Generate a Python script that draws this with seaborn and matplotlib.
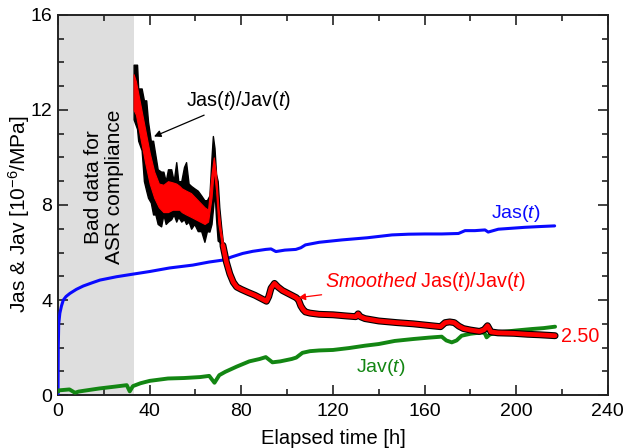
import numpy as np
import pandas as pd
import matplotlib
matplotlib.use("Agg")
import matplotlib.pyplot as plt
import seaborn as sns

# ---------------- data ----------------
t_jas = [0, 0.1, 0.3, 0.8, 1.5, 2.3, 3.5, 5.2, 8, 11, 15, 18.3, 25.5, 32.7, 40, 48.7,
         58.8, 66, 71.9, 76, 80.6, 85, 90.7, 93, 95.1, 99, 103.8, 106, 108, 114, 124,
         135, 145.8, 153, 160, 167.5, 174.8, 177.7, 182, 186.4, 187.8, 192.2, 198,
         203.8, 210, 216.8]
jas = [0, 2.0, 3.0, 3.45, 3.75, 4.0, 4.15, 4.28, 4.45, 4.59, 4.73, 4.84, 4.98, 5.09,
       5.2, 5.35, 5.47, 5.6, 5.68, 5.82, 5.96, 6.05, 6.13, 6.15, 6.04, 6.1, 6.13, 6.2,
       6.32, 6.43, 6.53, 6.62, 6.74, 6.77, 6.78, 6.78, 6.8, 6.92, 6.92, 6.95, 6.86,
       6.98, 7.02, 7.06, 7.09, 7.12]

t_jav = [0, 0.3, 5, 7.4, 9, 11, 18, 25, 30, 31.3, 32.7, 36, 40, 48, 55, 62, 66, 68.3,
         70.4, 73, 78, 83.5, 88, 90.7, 93.6, 97, 102, 104, 106.7, 110, 114, 120, 127,
         134, 140, 147, 155, 162, 167.5, 169.5, 171.9, 174, 176.2, 180, 185, 186.3,
         187.1, 188.5, 192, 200, 206.7, 212, 217]
jav = [0.15, 0.2, 0.24, 0.1, 0.15, 0.18, 0.28, 0.36, 0.42, 0.16, 0.38, 0.5, 0.6, 0.7,
       0.72, 0.76, 0.81, 0.52, 0.84, 0.98, 1.2, 1.42, 1.52, 1.6, 1.38, 1.42, 1.52,
       1.58, 1.78, 1.85, 1.88, 1.9, 1.98, 2.08, 2.15, 2.28, 2.36, 2.42, 2.46, 2.3,
       2.22, 2.3, 2.5, 2.58, 2.64, 2.6, 2.43, 2.55, 2.64, 2.72, 2.78, 2.82, 2.88]

# noisy early part of the raw ratio (black envelope)
t_black = [33, 34.5, 35, 36.5, 37.5, 38.5, 39.3, 40.5, 41.5, 42.5, 43.5, 45, 46, 47,
           48, 49.4, 50.5, 51.6, 52.5, 53.8, 55, 55.9, 57, 58.1, 59.5, 61, 62.5, 63.9,
           65, 66.1, 67, 67.6, 68.3, 69, 69.7, 70.4, 71.2, 72, 73]
black_hi = [13.9, 13.9, 12.9, 12.9, 12.4, 12.4, 11.5, 10.7, 10.7, 10.1, 9.5, 9.4, 9.4,
            9.0, 9.5, 9.5, 9.0, 9.8, 9.0, 9.0, 9.6, 9.8, 8.9, 8.8, 8.7, 8.6, 8.4, 8.2,
            8.2, 8.4, 10.0, 10.9, 10.4, 9.3, 9.0, 7.9, 7.1, 6.4, 6.0]
black_lo = [11.6, 11.2, 10.7, 10.3, 9.0, 8.6, 8.3, 8.1, 7.6, 7.6, 7.2, 7.1, 7.6, 7.2,
            7.3, 7.4, 7.6, 7.3, 7.5, 7.3, 7.4, 7.2, 7.3, 7.0, 7.2, 6.9, 6.9, 6.45,
            6.9, 6.88, 7.2, 7.8, 8.6, 7.4, 6.5, 6.45, 6.2, 5.9, 5.5]

# noisy early part of the smoothed ratio (red envelope)
t_red = [33, 34, 36, 38, 40, 42, 44, 46, 48, 50, 51.6, 53, 54, 55.9, 58, 60, 62, 64,
         65.5, 67, 68, 69, 70, 71, 72, 73]
red_hi = [13.5, 13.2, 12.2, 11.2, 10.2, 9.4, 8.9, 8.85, 9.0, 8.95, 8.9, 8.8, 8.7,
          8.6, 8.5, 8.3, 8.1, 7.9, 7.8, 9.3, 10.0, 9.3, 7.9, 7.0, 6.4, 5.9]
red_lo = [12.0, 11.8, 10.8, 9.8, 8.9, 8.3, 7.9, 7.7, 7.7, 7.8, 7.8, 7.8, 7.7, 7.6,
          7.5, 7.4, 7.3, 7.2, 7.3, 8.3, 9.5, 8.6, 7.2, 6.6, 6.0, 5.6]

# later (smooth) part of the ratio
t_smooth = [72, 73.5, 75, 76.5, 78, 80, 83, 86, 89, 91, 92, 93, 94.5, 96, 98, 100,
            102, 104, 105, 106, 107, 108, 110, 114, 120, 126, 130, 131, 132, 134, 140,
            148, 155, 162, 167, 169, 171, 173, 175, 177, 180, 184, 186, 187.5, 189,
            192, 199, 205, 210, 217]
ratio = [6.3, 5.6, 5.1, 4.75, 4.55, 4.45, 4.32, 4.2, 4.05, 3.95, 4.15, 4.5, 4.7,
         4.55, 4.4, 4.3, 4.2, 4.1, 4.0, 3.75, 3.6, 3.5, 3.45, 3.4, 3.38, 3.33, 3.3,
         3.42, 3.3, 3.22, 3.12, 3.05, 3.0, 2.93, 2.88, 3.05, 3.08, 3.05, 2.9, 2.8,
         2.74, 2.68, 2.75, 2.92, 2.66, 2.62, 2.6, 2.56, 2.54, 2.5]

bad_data_end = 33
x_ticks = [0, 40, 80, 120, 160, 200, 240]
y_ticks = [0, 4, 8, 12, 16]

# ---------------- style ----------------
sns.set_style("ticks")
plt.rcParams["font.family"] = ["Liberation Sans", "DejaVu Sans"]
plt.rcParams["mathtext.fontset"] = "custom"
plt.rcParams["mathtext.rm"] = "Liberation Sans"
plt.rcParams["mathtext.it"] = "Liberation Sans:italic"
plt.rcParams["mathtext.bf"] = "Liberation Sans:bold"
plt.rcParams["text.color"] = "black"
plt.rcParams["axes.labelcolor"] = "black"
plt.rcParams["xtick.color"] = "black"
plt.rcParams["ytick.color"] = "black"

fig = plt.figure(figsize=(6.24, 4.48), dpi=100)
ax = fig.add_axes([0.093, 0.118, 0.881, 0.849])

FS_TICK = 14
FS_ANN = 14.2
ax.axvspan(0, bad_data_end, color="#dedede", lw=0, zorder=0)

df_jas = pd.DataFrame({"t": t_jas, "v": jas})
df_jav = pd.DataFrame({"t": t_jav, "v": jav})
df_ratio = pd.DataFrame({"t": t_smooth, "v": ratio})

sns.lineplot(data=df_jas, x="t", y="v", ax=ax, color="#0a0aff", lw=2.2,
             sort=False, estimator=None, zorder=3)
sns.lineplot(data=df_jav, x="t", y="v", ax=ax, color="#138613", lw=2.8,
             sort=False, estimator=None, zorder=3)

ax.fill_between(t_black, black_lo, black_hi, color="black", lw=1.0,
                edgecolor="black", zorder=4)
sns.lineplot(data=df_ratio, x="t", y="v", ax=ax, color="black", lw=5.0,
             sort=False, estimator=None, zorder=4)
ax.fill_between(t_red, red_lo, red_hi, color="#ff0000", lw=0.8,
                edgecolor="#ff0000", zorder=5)
sns.lineplot(data=df_ratio, x="t", y="v", ax=ax, color="#ff0000", lw=3.4,
             sort=False, estimator=None, zorder=5)

# ---------------- annotations ----------------
ax.text(20, 8.75, "Bad data for\nASR compliance", rotation=90, ha="center",
        va="center", fontsize=15, linespacing=1.15, zorder=6)
ax.annotate(r"Jas($\it{t}$)/Jav($\it{t}$)", xy=(41.9, 10.88), xytext=(56, 12.4),
            fontsize=FS_ANN, va="center", ha="left",
            arrowprops=dict(arrowstyle="-|>", color="black", lw=0.9,
                            mutation_scale=10, shrinkA=0, shrinkB=0), zorder=6)
ax.annotate(r"$\it{Smoothed}$ Jas($\it{t}$)/Jav($\it{t}$)", xy=(105, 4.1),
            xytext=(116.5, 4.77), fontsize=FS_ANN, va="center", ha="left",
            color="#ff0000",
            arrowprops=dict(arrowstyle="-|>", color="#ff0000", lw=0.9,
                            mutation_scale=10, shrinkA=0, shrinkB=0), zorder=6)
ax.text(200, 7.62, r"Jas($\it{t}$)", color="#0a0aff", fontsize=14,
        ha="center", va="center")
ax.text(141, 1.17, r"Jav($\it{t}$)", color="#138613", fontsize=14,
        ha="center", va="center")
ax.text(219.5, 2.45, "2.50", color="#ff0000", fontsize=14.2,
        ha="left", va="center")

# ---------------- axes ----------------
ax.set_xlim(0, 240)
ax.set_ylim(0, 16)
ax.set_xticks(x_ticks)
ax.set_yticks(y_ticks)
ax.set_xticks(np.arange(0, 241, 20), minor=True)
ax.set_yticks(np.arange(0, 17, 1), minor=True)
ax.tick_params(which="both", direction="in", top=True, right=True,
               labelsize=FS_TICK, color="#222222", width=1.2)
ax.tick_params(which="major", length=7)
ax.tick_params(axis="x", which="major", pad=6)
ax.tick_params(axis="y", which="major", pad=4)
ax.tick_params(which="minor", length=4)
for s in ax.spines.values():
    s.set_linewidth(1.4)
    s.set_color("#222222")
ax.set_xlabel("Elapsed time [h]", fontsize=14.5, labelpad=6)
ax.set_ylabel(r"Jas & Jav [10$^{-6}$/MPa]", fontsize=15)
ax.yaxis.set_label_coords(-0.047, 0.475)

fig.savefig("out.png", dpi=100)
